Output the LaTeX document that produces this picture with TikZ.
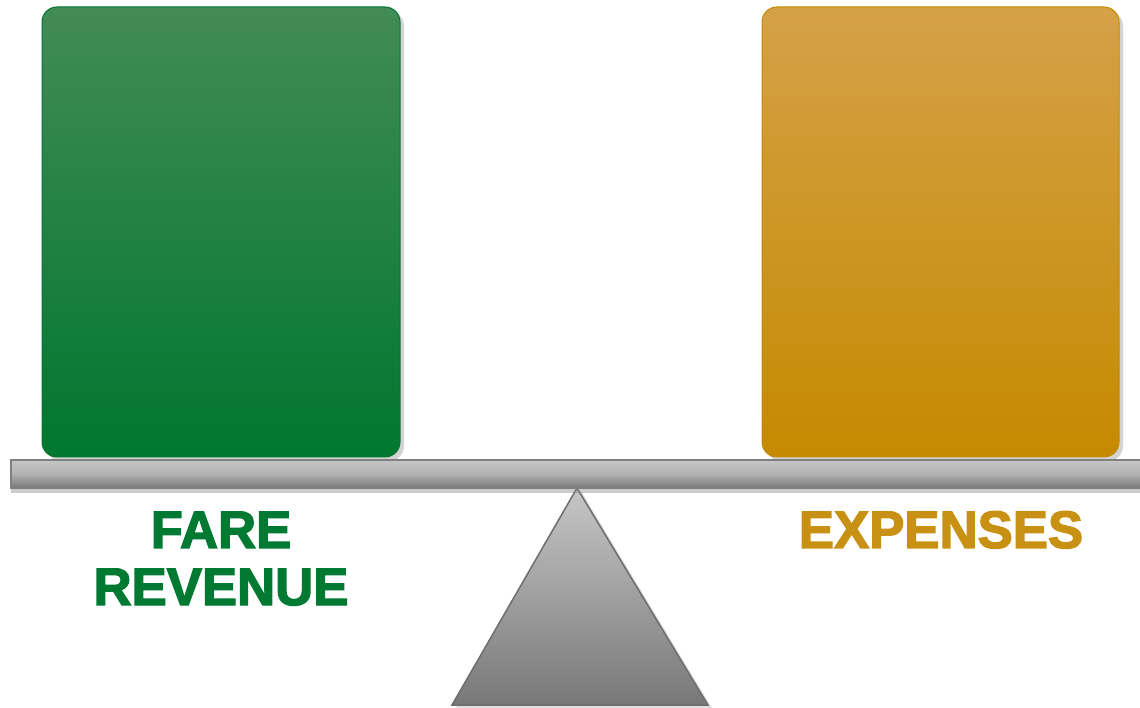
\documentclass[tikz,border=0pt]{standalone}
\usepackage{fontspec}
\setmainfont{Liberation Sans}
\newfontfamily\heavyfont[FakeBold=2.6]{Liberation Sans Bold}
\usetikzlibrary{shadows}
\begin{document}
\begin{tikzpicture}
                    \useasboundingbox (0,0) rectangle (22.800000,14.140000);
                    \clip (0,0) rectangle (22.800000,14.140000);
                    {\heavyfont\fontsize{30}{32.4}\selectfont

                    % Changing color 110 110 110
                    \definecolor{r110g110b110}{rgb}{0.431373,0.431373,0.431373}%
                    \definecolor{r198g198b198}{rgb}{0.776471,0.776471,0.776471}%
                    \definecolor{r120g120b120}{rgb}{0.470588,0.470588,0.470588}%
                    \definecolor{r128g128b128}{rgb}{0.501961,0.501961,0.501961}%
                    \definecolor{r178g178b178}{rgb}{0.698039,0.698039,0.698039}%

                    % Filling triangle pivot
                    \draw [line width=0.030cm, draw=r110g110b110, top color=r198g198b198, bottom color=r120g120b120,
                           drop shadow={opacity=0.25, shadow xshift=0.080000, shadow yshift=-0.060000}]
                          (11.540000,4.380000) -- (14.160000,0.040000) -- (9.040000,0.040000) -- cycle;%

                    % Filling beam
                    \draw [line width=0.030cm, draw=r128g128b128, top color=r198g198b198, bottom color=r120g120b120,
                           middle color=r178g178b178,
                           drop shadow={opacity=0.40, shadow xshift=0.000000, shadow yshift=-0.100000}]
                          (0.220000,4.940000) rectangle (23.200000,4.380000);%

                    % Changing color 0 122 51
                    \definecolor{r66g139b87}{rgb}{0.258824,0.545098,0.341176}%
                    \definecolor{r0g122b51}{rgb}{0.000000,0.478431,0.200000}%
                    \definecolor{r0g119b47}{rgb}{0.000000,0.466667,0.184314}%

                    % Filling box fare revenue
                    \draw [line width=0.020cm, draw=r0g119b47, rounded corners=0.300000cm,
                           top color=r66g139b87, middle color=r0g122b51, bottom color=r0g119b47,
                           drop shadow={opacity=0.35, shadow xshift=0.080000, shadow yshift=-0.080000}]
                          (0.840000,14.000000) rectangle (8.000000,5.000000);%

                    % Changing color 197 138 0
                    \definecolor{r213g161b72}{rgb}{0.835294,0.631373,0.282353}%
                    \definecolor{r206g148b16}{rgb}{0.807843,0.580392,0.062745}%
                    \definecolor{r197g138b0}{rgb}{0.772549,0.541176,0.000000}%

                    % Filling box expenses
                    \draw [line width=0.020cm, draw=r197g138b0, rounded corners=0.300000cm,
                           top color=r213g161b72, middle color=r206g148b16, bottom color=r197g138b0,
                           drop shadow={opacity=0.35, shadow xshift=0.080000, shadow yshift=-0.080000}]
                          (15.240000,14.000000) rectangle (22.380000,5.000000);%

                    % Drawing label fare revenue
                    \color{r0g122b51}%
                    \node [anchor=base, align=center, inner sep=0pt] (fare) at (4.420000,3.180000) {FARE};%
                    \node [anchor=base, align=center, inner sep=0pt] (revenue) at (4.420000,2.040000) {REVENUE};%

                    % Drawing label expenses
                    \definecolor{r201g145b20}{rgb}{0.788235,0.568627,0.078431}%
                    \color{r201g145b20}%
                    \node [anchor=base, align=center, inner sep=0pt] (expenses) at (18.820000,3.180000) {EXPENSES};%
                    \color{black}
                    }
                    \end{tikzpicture}
\end{document}
